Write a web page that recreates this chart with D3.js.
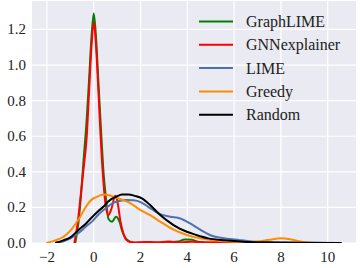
<!DOCTYPE html>
<html>
<head>
<meta charset="utf-8">
<script src="https://cdn.jsdelivr.net/npm/d3@7"></script>
</head>
<body style="margin:0">
<svg id="c" width="360" height="268"></svg>
<script>
// density curves: [x, density]
var graphLime = [[-0.79,0],[-0.65,0.12],[-0.55,0.26],[-0.45,0.44],[-0.3,0.7],[-0.2,0.92],[-0.1,1.15],[0,1.29],
  [0.1,1.15],[0.2,0.9],[0.3,0.66],[0.4,0.43],[0.53,0.24],[0.63,0.135],[0.78,0.12],[0.95,0.148],[1.1,0.12],
  [1.22,0.065],[1.35,0.03],[1.55,0.008],[1.8,0.002],[2.5,0.002],[3.2,0.003],[3.6,0.008],[3.9,0.02],[4.2,0.018],
  [4.5,0.005],[5,0.002],[5.8,0.003],[6.5,0]];
var gnnExplainer = [[-0.83,0],[-0.7,0.1],[-0.58,0.24],[-0.45,0.4],[-0.3,0.6],[-0.2,0.85],[-0.1,1.1],[0,1.243],
  [0.1,1.1],[0.2,0.85],[0.3,0.58],[0.42,0.33],[0.52,0.2],[0.63,0.157],[0.75,0.19],[0.92,0.265],[1.03,0.22],
  [1.13,0.13],[1.25,0.06],[1.35,0.025],[1.5,0.008],[1.7,0.003],[2.2,0.006],[2.7,0.004],[3.2,0.008],[3.7,0.004],
  [4.2,0.007],[4.8,0.003],[5.5,0.006],[6.2,0.003],[6.8,0]];
var lime = [[-1.65,0],[-1.3,0.01],[-1.0,0.026],[-0.58,0.063],[-0.36,0.09],[0,0.13],[0.2,0.16],[0.56,0.2],
  [0.78,0.222],[1.13,0.238],[1.4,0.242],[1.7,0.24],[2.0,0.23],[2.2,0.215],[2.41,0.196],[2.84,0.162],[3.27,0.148],
  [3.7,0.138],[4.12,0.11],[4.55,0.075],[5.05,0.041],[5.62,0.026],[6.19,0.017],[6.76,0.009],[7.5,0.005],
  [8.5,0.003],[9.5,0.001],[10.5,0]];
var greedy = [[-2.03,0],[-1.7,0.012],[-1.29,0.035],[-1.0,0.07],[-0.58,0.148],[-0.36,0.198],[-0.08,0.245],
  [0.06,0.255],[0.42,0.272],[0.6,0.27],[0.92,0.257],[1.27,0.24],[1.49,0.229],[2.0,0.185],[2.41,0.157],
  [2.84,0.12],[3.41,0.075],[3.98,0.045],[4.55,0.026],[5.1,0.015],[5.77,0.008],[6.5,0.005],[7.0,0.008],
  [7.5,0.018],[8.0,0.027],[8.5,0.018],[9.0,0.004],[9.4,0]];
var random = [[-1.65,0],[-1.3,0.015],[-1.0,0.032],[-0.58,0.082],[-0.36,0.105],[-0.15,0.135],[0.2,0.18],
  [0.42,0.205],[0.63,0.235],[0.99,0.262],[1.2,0.272],[1.49,0.273],[1.75,0.265],[2.06,0.251],[2.41,0.213],
  [2.84,0.157],[3.41,0.101],[3.98,0.063],[4.34,0.047],[4.9,0.026],[5.62,0.015],[6.4,0.007],[7.5,0.003],
  [9,0.001],[10.6,0]];

var seriesNames = ['GraphLIME', 'GNNexplainer', 'LIME', 'Greedy', 'Random'];
var seriesData = [graphLime, gnnExplainer, lime, greedy, random];
var seriesColors = ['#008000', '#ff0000', '#4c72b0', '#ff8c00', '#000000'];

var xTicks = [-2, 0, 2, 4, 6, 8, 10];
var yTicks = [0, 0.2, 0.4, 0.6, 0.8, 1.0, 1.2];

var svg = d3.select('#c');
var margin = {top: 1, right: 4, bottom: 25, left: 32};
var width = 360 - margin.left - margin.right;
var height = 268 - margin.top - margin.bottom;

var x = d3.scaleLinear().domain([-2.64, 11.21]).range([0, width]);
var y = d3.scaleLinear().domain([0, 1.36]).range([height, 0]);

var g = svg.append('g')
    .attr('transform', 'translate(' + margin.left + ',' + margin.top + ')');

g.append('rect')
    .attr('width', width)
    .attr('height', height)
    .attr('fill', '#eaeaf2');

// grid
g.selectAll('.vgrid').data(xTicks).enter().append('line')
    .attr('x1', function(d) { return x(d); })
    .attr('x2', function(d) { return x(d); })
    .attr('y1', 0).attr('y2', height)
    .attr('stroke', '#fff').attr('stroke-width', 1.2);
g.selectAll('.hgrid').data(yTicks).enter().append('line')
    .attr('y1', function(d) { return y(d); })
    .attr('y2', function(d) { return y(d); })
    .attr('x1', 0).attr('x2', width)
    .attr('stroke', '#fff').attr('stroke-width', 1.2);

g.append('clipPath').attr('id', 'clip')
    .append('rect').attr('width', width).attr('height', height);

var line = d3.line()
    .x(function(d) { return x(d[0]); })
    .y(function(d) { return y(d[1]); })
    .curve(d3.curveMonotoneX);

var curves = g.append('g').attr('clip-path', 'url(#clip)');
seriesData.forEach(function(s, i) {
    curves.append('path')
        .attr('d', line(s))
        .attr('fill', 'none')
        .attr('stroke', seriesColors[i])
        .attr('stroke-width', 2)
        .attr('stroke-linejoin', 'round');
});

// tick labels from the scales
svg.selectAll('.xl').data(xTicks).enter().append('text')
    .attr('x', function(d) { return margin.left + x(d); })
    .attr('y', margin.top + height + 19)
    .attr('text-anchor', 'middle')
    .attr('fill', '#222')
    .style('font-family', '"Liberation Serif", monospace')
    .style('font-size', '15px')
    .text(function(d) { return d < 0 ? '\u2212' + Math.abs(d) : String(d); });

svg.selectAll('.yl').data(yTicks).enter().append('text')
    .attr('x', margin.left - 6)
    .attr('y', function(d) { return margin.top + y(d) + 5; })
    .attr('text-anchor', 'end')
    .attr('fill', '#222')
    .style('font-family', '"Liberation Serif", monospace')
    .style('font-size', '15px')
    .text(function(d) { return d3.format('.1f')(d); });

// legend
seriesNames.forEach(function(name, i) {
    var ly = 21.5 + i * 23.3;
    svg.append('line').attr('x1', 199).attr('x2', 233).attr('y1', ly).attr('y2', ly)
        .attr('stroke', seriesColors[i]).attr('stroke-width', 2);
    svg.append('text').attr('x', 246).attr('y', ly + 5.5)
        .attr('fill', '#222')
        .style('font-family', '"Liberation Serif", monospace')
        .style('font-size', '16px')
        .text(name);
});
</script>
</body>
</html>
